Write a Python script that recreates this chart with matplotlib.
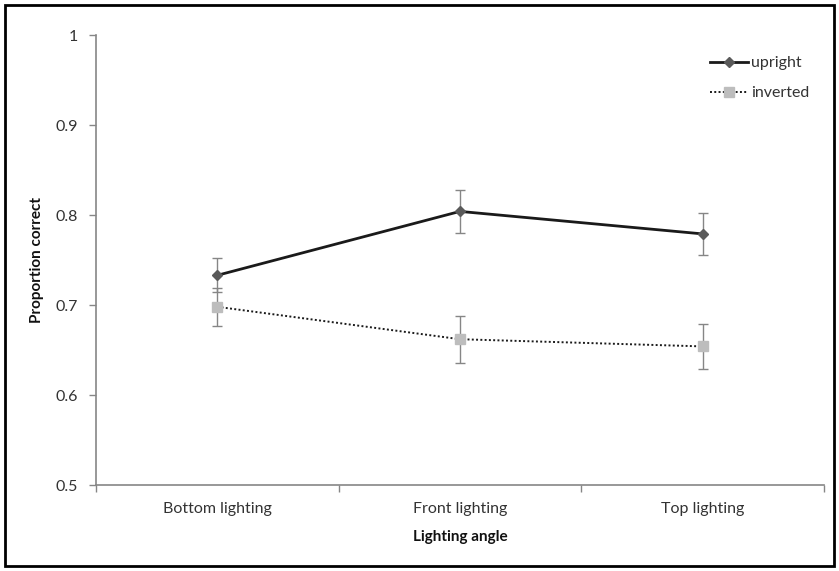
import numpy as np
import matplotlib.pyplot as plt
from matplotlib.patches import Rectangle

plt.rcParams['font.family'] = ['Lato', 'DejaVu Sans']

conditions = ["Bottom lighting", "Front lighting", "Top lighting"]
upright = [0.733, 0.804, 0.779]
upright_se = [0.019, 0.024, 0.023]
inverted = [0.698, 0.662, 0.654]
inverted_se = [0.021, 0.026, 0.025]

x = np.arange(len(conditions))
grey = "#868686"
text_col = "#333333"

fig = plt.figure(figsize=(8.39, 5.71), dpi=100)
ax = fig.add_axes([0.1144, 0.1506, 0.8676, 0.7881])

ax.errorbar(x, upright, yerr=upright_se, fmt="none", ecolor=grey, elinewidth=1,
            capsize=3.5, capthick=1, zorder=2)
ax.errorbar(x, inverted, yerr=inverted_se, fmt="none", ecolor=grey, elinewidth=1,
            capsize=3.5, capthick=1, zorder=2)
ax.plot(x, upright, color="#1a1a1a", lw=2, marker="D", markersize=5,
        markerfacecolor="#5a5a5a", markeredgecolor="#5a5a5a", label="upright", zorder=3)
ax.plot(x, inverted, color="#1a1a1a", lw=1.4, linestyle=(0, (1, 1.2)), marker="s", markersize=7,
        markerfacecolor="#bdbdbd", markeredgecolor="#bdbdbd", label="inverted", zorder=3)

ax.set_xlim(-0.5, 2.5)
ax.set_ylim(0.5, 1.0)
ax.set_yticks([0.5, 0.6, 0.7, 0.8, 0.9, 1.0])
ax.set_yticklabels(["0.5", "0.6", "0.7", "0.8", "0.9", "1"])
ax.set_xticks(x)
ax.set_xticklabels(conditions)
ax.set_xticks([-0.5, 0.5, 1.5, 2.5], minor=True)
ax.tick_params(axis="x", which="major", length=0, pad=12, labelsize=11.5, labelcolor=text_col)
ax.tick_params(axis="x", which="minor", length=5, color=grey, width=1)
ax.tick_params(axis="y", length=5, color=grey, width=1, pad=8, labelsize=11.5, labelcolor=text_col)

for s in ["top", "right"]:
    ax.spines[s].set_visible(False)
for s in ["left", "bottom"]:
    ax.spines[s].set_color(grey)
    ax.spines[s].set_linewidth(1.2)

ax.set_xlabel("Lighting angle", fontsize=11, fontweight="bold", color="#111111", labelpad=10)
ax.set_ylabel("Proportion correct", fontsize=11, fontweight="bold", color="#111111", labelpad=8)

ax.legend(loc="upper right", bbox_to_anchor=(1.0, 0.985), frameon=False, fontsize=11.5,
          handlelength=2.4, handletextpad=0.2, labelspacing=1.0, labelcolor=text_col)

fig.patches.append(Rectangle((0.006, 0.008), 0.988, 0.984, transform=fig.transFigure,
                             fill=False, edgecolor="black", linewidth=2))

fig.savefig("out.png", dpi=100)
